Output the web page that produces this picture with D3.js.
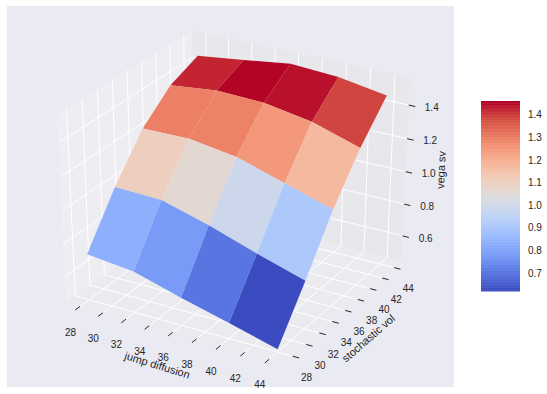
<!DOCTYPE html>
<html>
<head>
<meta charset="utf-8">
<script src="https://cdnjs.cloudflare.com/ajax/libs/d3/7.8.5/d3.min.js"></script>
<style>
  body { margin: 0; background: #fff; }
  text { font-family: "Liberation Sans", Arial, sans-serif; fill: #262626; }
</style>
</head>
<body>
<div id="chart"></div>
<script>
// Chart values
const jumpValues = [28, 32, 36, 40, 44];
const volValues = [28, 32, 36, 40, 44];
// one row per stochastic vol value, one column per jump diffusion value
const vegaRow28 = [0.721, 0.691, 0.609, 0.534, 0.455];
const vegaRow32 = [1.006, 0.997, 0.917, 0.821, 0.733];
const vegaRow36 = [1.24, 1.245, 1.204, 1.117, 1.032];
const vegaRow40 = [1.388, 1.42, 1.411, 1.363, 1.275];
const vegaRow44 = [1.46, 1.495, 1.533, 1.517, 1.471];
const vegaRows = [vegaRow28, vegaRow32, vegaRow36, vegaRow40, vegaRow44];

// value of each face
const faceRow28 = [0.83, 0.78, 0.7, 0.62];
const faceRow32 = [1.107, 1.065, 0.99, 0.91];
const faceRow36 = [1.3, 1.296, 1.25, 1.174];
const faceRow40 = [1.426, 1.46, 1.447, 1.39];
const faceRows = [faceRow28, faceRow32, faceRow36, faceRow40];

const xTicks = [28, 30, 32, 34, 36, 38, 40, 42, 44];
const yTicks = [28, 30, 32, 34, 36, 38, 40, 42, 44];
const zTicks = [0.6, 0.8, 1.0, 1.2, 1.4];
const barTicks = [0.7, 0.8, 0.9, 1.0, 1.1, 1.2, 1.3, 1.4];
const colorLimits = [0.62, 1.46];

// coolwarm colormap stops
const coolwarm = d3
  .scaleLinear()
  .domain([0, 0.1, 0.2, 0.3, 0.4, 0.5, 0.6, 0.7, 0.8, 0.9, 1])
  .range([
    "#3b4cc0", "#5977e3", "#7b9ff9", "#9ebeff", "#c0d4f5", "#dddcdc",
    "#f2cbb7", "#f7ac8e", "#ee8468", "#d65244", "#b40426",
  ])
  .clamp(true);

const width = 547;
const height = 394;

const svg = d3
  .select("#chart")
  .append("svg")
  .attr("width", width)
  .attr("height", height);

// Axes background
svg
  .append("rect")
  .attr("x", 7)
  .attr("y", 6)
  .attr("width", 447)
  .attr("height", 381)
  .attr("fill", "#eaeaf2");

// Data to unit cube
const x = d3.scaleLinear().domain([27.15, 44.85]).range([0, 1]);
const y = d3.scaleLinear().domain([27.15, 44.85]).range([0, 1]);
const z = d3.scaleLinear().domain([0.46, 1.54]).range([0, 1]);

// Panes stick out of the unit cube a little
const lo = -1 / 48;
const hi = 49 / 48;

// View at elevation 30, azimuth -60, distance 10
const elev = (30 * Math.PI) / 180;
const azim = (-60 * Math.PI) / 180;
const dist = 10;
const n = [
  Math.cos(elev) * Math.cos(azim),
  Math.cos(elev) * Math.sin(azim),
  Math.sin(elev),
];
const u = [-n[1], n[0], 0];
const v = [
  n[1] * u[2] - n[2] * u[1],
  n[2] * u[0] - n[0] * u[2],
  n[0] * u[1] - n[1] * u[0],
];
const dot = (a, b) => a[0] * b[0] + a[1] * b[1] + a[2] * b[2];

const screenX = d3.scaleLinear().domain([-0.08, 0.08]).range([13.3, 459.7]);
const screenY = d3.scaleLinear().domain([-0.08, 0.08]).range([381.4, 0.6]);

// Project a point of the unit cube on the page
function project(p) {
  const q = [p[0] - 0.5, p[1] - 0.5, p[2] - 0.5];
  const d = dist - dot(n, q);
  return [screenX(dot(u, q) / d), screenY(dot(v, q) / d)];
}

const path = d3.line();

// Panes
const panes = [
  {
    color: "#eeeef2",
    corners: [[lo, lo, lo], [lo, hi, lo], [lo, hi, hi], [lo, lo, hi]],
  },
  {
    color: "#e8e8ec",
    corners: [[lo, hi, lo], [hi, hi, lo], [hi, hi, hi], [lo, hi, hi]],
  },
  {
    color: "#ebebef",
    corners: [[lo, lo, lo], [hi, lo, lo], [hi, hi, lo], [lo, hi, lo]],
  },
];

svg
  .selectAll(".pane")
  .data(panes)
  .join("path")
  .attr("class", "pane")
  .attr("d", (d) => path(d.corners.map(project)) + "Z")
  .attr("fill", (d) => d.color);

// Grid lines run along the floor and up the back walls
const gridLines = [
  ...xTicks.map((t) => [[x(t), lo, lo], [x(t), hi, lo], [x(t), hi, hi]]),
  ...yTicks.map((t) => [[hi, y(t), lo], [lo, y(t), lo], [lo, y(t), hi]]),
  ...zTicks.map((t) => [[lo, lo, z(t)], [lo, hi, z(t)], [hi, hi, z(t)]]),
];

svg
  .selectAll(".grid")
  .data(gridLines)
  .join("path")
  .attr("class", "grid")
  .attr("d", (d) => path(d.map(project)))
  .attr("fill", "none")
  .attr("stroke", "#fff")
  .attr("stroke-width", 1);

// Tick marks and their labels
const tickSets = [
  {
    values: xTicks,
    inner: (t) => [x(t), lo, lo],
    outer: (t) => [x(t), lo - 0.036, lo],
    offset: [-9.5, 26.5],
    format: d3.format("d"),
  },
  {
    values: yTicks,
    inner: (t) => [hi, y(t), lo],
    outer: (t) => [hi + 0.03, y(t), lo],
    offset: [14, 22],
    format: d3.format("d"),
  },
  {
    values: zTicks,
    inner: (t) => [hi, hi, z(t)],
    outer: (t) => [hi + 0.03, hi, z(t)],
    offset: [23, 3],
    format: d3.format(".1f"),
  },
];

tickSets.forEach((set) => {
  svg
    .selectAll(null)
    .data(set.values)
    .join("path")
    .attr("d", (t) => path([project(set.inner(t)), project(set.outer(t))]))
    .attr("stroke", "#262626")
    .attr("stroke-width", 1);

  svg
    .selectAll(null)
    .data(set.values)
    .join("text")
    .attr("x", (t) => project(set.inner(t))[0] + set.offset[0])
    .attr("y", (t) => project(set.inner(t))[1] + set.offset[1])
    .attr("text-anchor", "middle")
    .attr("dominant-baseline", "middle")
    .style("font-size", "10px")
    .text(set.format);
});

// Axis labels
const axisLabels = [
  { text: "jump diffusion", at: [157, 366], angle: 17 },
  { text: "stochastic vol", at: [369, 339], angle: -41 },
  { text: "vega sv", at: [442, 170], angle: -87.5 },
];

svg
  .selectAll(".axis-label")
  .data(axisLabels)
  .join("text")
  .attr("class", "axis-label")
  .attr("transform", (d) => `translate(${d.at}) rotate(${d.angle})`)
  .attr("text-anchor", "middle")
  .attr("dominant-baseline", "middle")
  .style("font-size", "11px")
  .text((d) => d.text);

// Surface faces, far ones first
const color = d3.scaleLinear().domain(colorLimits).range([0, 1]);
const faces = [];
d3.range(volValues.length - 1).forEach((j) => {
  d3.range(jumpValues.length - 1).forEach((i) => {
    const cells = [[i, j], [i + 1, j], [i + 1, j + 1], [i, j + 1]];
    const points = cells.map(([a, b]) => [
      x(jumpValues[a]),
      y(volValues[b]),
      z(vegaRows[b][a]),
    ]);
    faces.push({
      points,
      value: faceRows[j][i],
      depth: d3.mean(points, (p) =>
        dot(n, [p[0] - 0.5, p[1] - 0.5, p[2] - 0.5])
      ),
    });
  });
});
faces.sort((a, b) => a.depth - b.depth);

svg
  .selectAll(".face")
  .data(faces)
  .join("path")
  .attr("class", "face")
  .attr("d", (d) => path(d.points.map(project)) + "Z")
  .attr("fill", (d) => coolwarm(color(d.value)));

// Colorbar
const barY = d3.scaleLinear().domain(colorLimits).range([291, 101]);
const barSteps = d3.range(0, 256);

svg
  .selectAll(".bar-step")
  .data(barSteps)
  .join("rect")
  .attr("class", "bar-step")
  .attr("x", 481)
  .attr("width", 39)
  .attr("y", (d) => 291 - ((d + 1) / 256) * 190)
  .attr("height", 190 / 256 + 0.5)
  .attr("fill", (d) => coolwarm(d / 255));

const barAxis = svg
  .append("g")
  .attr("transform", "translate(520,0)")
  .call(
    d3
      .axisRight(barY)
      .tickValues(barTicks)
      .tickFormat(d3.format(".1f"))
      .tickSize(0)
      .tickPadding(8)
  );
barAxis.select(".domain").remove();
barAxis
  .selectAll("text")
  .style("font-size", "10px")
  .style("font-family", '"Liberation Sans", Arial, sans-serif')
  .style("fill", "#262626");
</script>
</body>
</html>
